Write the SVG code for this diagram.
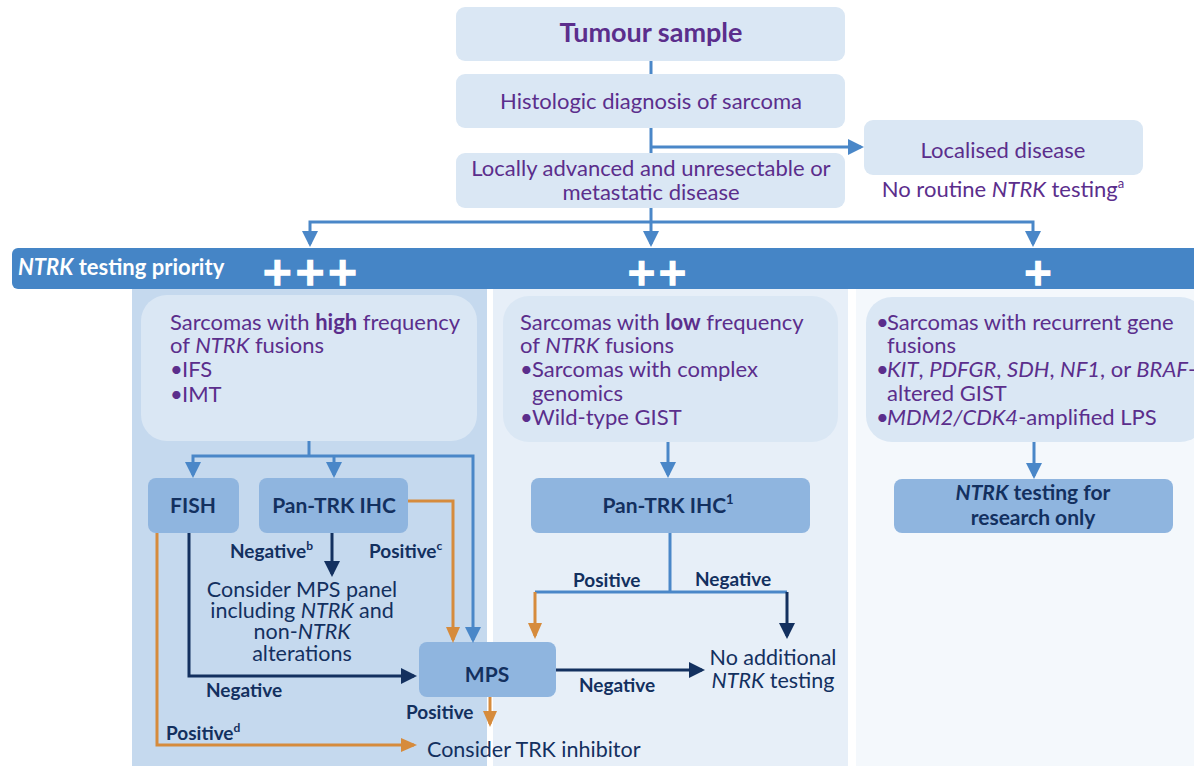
<svg xmlns="http://www.w3.org/2000/svg" width="1194" height="766" viewBox="0 0 1194 766">
<defs>
<style>
text{font-family:Lato,"Liberation Sans",sans-serif}
.box{fill:#DAE7F4}
.tb{fill:#8FB5DF}
.pu{fill:#5B2E8C;font-size:22px}
.nv{fill:#13305F;font-size:21.5px}
.lb{fill:#13305F;font-size:19px;font-weight:bold}
.bx{fill:#13305F;font-size:21px;font-weight:bold}
.bl{fill:none;stroke:#4A87C8;stroke-width:3}
.dk{fill:none;stroke:#13305F;stroke-width:3}
.or{fill:none;stroke:#D68B3C;stroke-width:3}
.plus{fill:#FFFFFF;stroke:#FFFFFF;stroke-width:1.5;font-family:"DejaVu Sans",sans-serif;font-weight:bold}
</style>
<marker id="ab" markerUnits="userSpaceOnUse" markerWidth="16" markerHeight="16" viewBox="0 0 16 16" refX="13" refY="8" orient="auto"><path d="M0,0 L16,8 L0,16 Z" fill="#4A87C8"/></marker>
<marker id="ad" markerUnits="userSpaceOnUse" markerWidth="16" markerHeight="16" viewBox="0 0 16 16" refX="13" refY="8" orient="auto"><path d="M0,0 L16,8 L0,16 Z" fill="#13305F"/></marker>
<marker id="ao" markerUnits="userSpaceOnUse" markerWidth="16" markerHeight="16" viewBox="0 0 16 16" refX="13" refY="8" orient="auto"><path d="M0,1 L16,8 L0,15 Z" fill="#D68B3C"/></marker>
</defs>
<rect width="1194" height="766" fill="#FFFFFF"/>

<g id="columns">
<rect x="132" y="288" width="355" height="478" fill="#C5D9EE"/>
<rect x="493" y="288" width="355" height="478" fill="#E7EFF8"/>
<rect x="856" y="288" width="338" height="478" fill="#F4F8FC"/>
</g>

<g id="priority-bar">
<rect x="12" y="248" width="1200" height="41" rx="6" fill="#4585C6"/>
<text x="18" y="275" fill="#FFFFFF" font-size="22" font-weight="bold"><tspan font-style="italic">NTRK</tspan> testing priority</text>
<text class="plus" x="310" y="285" font-size="39" text-anchor="middle">+++</text>
<text class="plus" x="657" y="285" font-size="37" text-anchor="middle">++</text>
<text class="plus" x="1038" y="285" font-size="37" text-anchor="middle">+</text>
</g>

<g id="tumour-sample">
<rect class="box" x="456" y="7" width="389" height="54" rx="9"/>
<text x="651" y="42" text-anchor="middle" fill="#5B2E8C" font-size="27" font-weight="bold">Tumour sample</text>
</g>
<g id="histologic">
<rect class="box" x="456" y="74" width="389" height="54" rx="9"/>
<text class="pu" x="651" y="109" text-anchor="middle">Histologic diagnosis of sarcoma</text>
</g>
<g id="localised">
<rect class="box" x="864" y="120" width="279" height="55" rx="9"/>
<text class="pu" x="1003" y="158" text-anchor="middle">Localised disease</text>
<text class="pu" x="1003" y="197" text-anchor="middle">No routine <tspan font-style="italic">NTRK</tspan> testing<tspan font-size="13" dy="-9">a</tspan></text>
</g>
<g id="advanced">
<rect class="box" x="456" y="153" width="389" height="55" rx="9"/>
<text class="pu" x="651" y="176" text-anchor="middle">Locally advanced and unresectable or</text>
<text class="pu" x="651" y="200" text-anchor="middle">metastatic disease</text>
</g>

<g id="high-card">
<rect class="box" x="141" y="295" width="336" height="146" rx="26"/>
<text class="pu" x="170" y="330">Sarcomas with <tspan font-weight="bold">high</tspan> frequency</text>
<text class="pu" x="170" y="353">of <tspan font-style="italic">NTRK</tspan> fusions</text>
<text class="pu" x="170" y="377">•</text><text class="pu" x="182" y="377">IFS</text>
<text class="pu" x="170" y="402">•</text><text class="pu" x="182" y="402">IMT</text>
</g>
<g id="low-card">
<rect class="box" x="503" y="296" width="335" height="146" rx="26"/>
<text class="pu" x="520" y="330">Sarcomas with <tspan font-weight="bold">low</tspan> frequency</text>
<text class="pu" x="520" y="353">of <tspan font-style="italic">NTRK</tspan> fusions</text>
<text class="pu" x="520" y="377">•</text><text class="pu" x="532" y="377">Sarcomas with complex</text>
<text class="pu" x="532" y="401">genomics</text>
<text class="pu" x="520" y="425">•</text><text class="pu" x="532" y="425">Wild-type GIST</text>
</g>
<g id="recurrent-card">
<rect class="box" x="866" y="297" width="340" height="145" rx="26"/>
<text class="pu" x="876" y="330">•</text><text class="pu" x="887" y="330">Sarcomas with recurrent gene</text>
<text class="pu" x="887" y="353">fusions</text>
<text class="pu" x="876" y="377">•</text><text class="pu" x="887" y="377"><tspan font-style="italic">KIT</tspan>, <tspan font-style="italic">PDFGR</tspan>, <tspan font-style="italic">SDH</tspan>, <tspan font-style="italic">NF1</tspan>, or <tspan font-style="italic">BRAF</tspan>-</text>
<text class="pu" x="887" y="401">altered GIST</text>
<text class="pu" x="876" y="425">•</text><text class="pu" x="887" y="425"><tspan font-style="italic">MDM2/CDK4</tspan>-amplified LPS</text>
</g>

<g id="fish">
<rect class="tb" x="148" y="478" width="91" height="55" rx="8"/>
<text class="bx" x="193" y="513" text-anchor="middle">FISH</text>
</g>
<g id="pantrk-left">
<rect class="tb" x="259" y="478" width="149" height="55" rx="8"/>
<text class="bx" x="334" y="513" text-anchor="middle">Pan-TRK IHC</text>
</g>
<g id="mps">
<rect class="tb" x="419" y="642" width="137" height="55" rx="8"/>
<text class="bx" x="487" y="682" text-anchor="middle">MPS</text>
</g>
<g id="pantrk-mid">
<rect class="tb" x="531" y="478" width="279" height="55" rx="8"/>
<text class="bx" x="668" y="513" text-anchor="middle">Pan-TRK IHC<tspan font-size="13" dy="-9">1</tspan></text>
</g>
<g id="research">
<rect class="tb" x="894" y="479" width="279" height="54" rx="8"/>
<text class="bx" x="1033" y="500" text-anchor="middle"><tspan font-style="italic">NTRK</tspan> testing for</text>
<text class="bx" x="1033" y="525" text-anchor="middle">research only</text>
</g>
<g id="consider-mps">
<text class="nv" x="302" y="597" text-anchor="middle">Consider MPS panel</text>
<text class="nv" x="302" y="618" text-anchor="middle">including <tspan font-style="italic">NTRK</tspan> and</text>
<text class="nv" x="302" y="639" text-anchor="middle">non-<tspan font-style="italic">NTRK</tspan></text>
<text class="nv" x="302" y="661" text-anchor="middle">alterations</text>
</g>
<g id="no-additional">
<text class="nv" x="773" y="665" text-anchor="middle">No additional</text>
<text class="nv" x="773" y="688" text-anchor="middle"><tspan font-style="italic">NTRK</tspan> testing</text>
</g>
<g id="trk-inhibitor">
<text class="nv" x="427" y="757">Consider TRK inhibitor</text>
</g>

<g id="connectors">
<path class="bl" d="M651,61 V74"/>
<path class="bl" d="M651,128 V153"/>
<path class="bl" d="M651,147 H861" marker-end="url(#ab)"/>
<path class="bl" d="M651,208 V244" marker-end="url(#ab)"/>
<path class="bl" d="M651,222 H310 V244" marker-end="url(#ab)"/>
<path class="bl" d="M651,222 H1033 V244" marker-end="url(#ab)"/>
<path class="bl" d="M309,441 V456"/>
<path class="bl" d="M309,456 H193 V475" marker-end="url(#ab)"/>
<path class="bl" d="M309,456 H473 V640" marker-end="url(#ab)"/>
<path class="bl" d="M334,456 V475" marker-end="url(#ab)"/>
<path class="or" d="M408,501 H453 V640" marker-end="url(#ao)"/>
<path class="dk" d="M332,533 V574" marker-end="url(#ad)"/>
<path class="dk" d="M189,533 V676 H414" marker-end="url(#ad)"/>
<path class="or" d="M157,533 V745 H414" marker-end="url(#ao)"/>
<path class="or" d="M490,697 V724" marker-end="url(#ao)"/>
<path class="dk" d="M556,670 H702" marker-end="url(#ad)"/>
<path class="bl" d="M668,442 V475" marker-end="url(#ab)"/>
<path class="bl" d="M670,533 V592"/>
<path class="bl" d="M535,592 H787"/>
<path class="or" d="M535,592 V636" marker-end="url(#ao)"/>
<path class="dk" d="M787,592 V636" marker-end="url(#ad)"/>
<path class="bl" d="M1034,442 V476" marker-end="url(#ab)"/>
<text class="lb" x="230" y="558">Negative<tspan font-size="12" dy="-8">b</tspan></text>
<text class="lb" x="369" y="558">Positive<tspan font-size="12" dy="-8">c</tspan></text>
<text class="lb" x="206" y="697">Negative</text>
<text class="lb" x="166" y="740">Positive<tspan font-size="12" dy="-8">d</tspan></text>
<text class="lb" x="406" y="719">Positive</text>
<text class="lb" x="617" y="692" text-anchor="middle">Negative</text>
<text class="lb" x="573" y="587">Positive</text>
<text class="lb" x="695" y="586">Negative</text>
</g>
</svg>
